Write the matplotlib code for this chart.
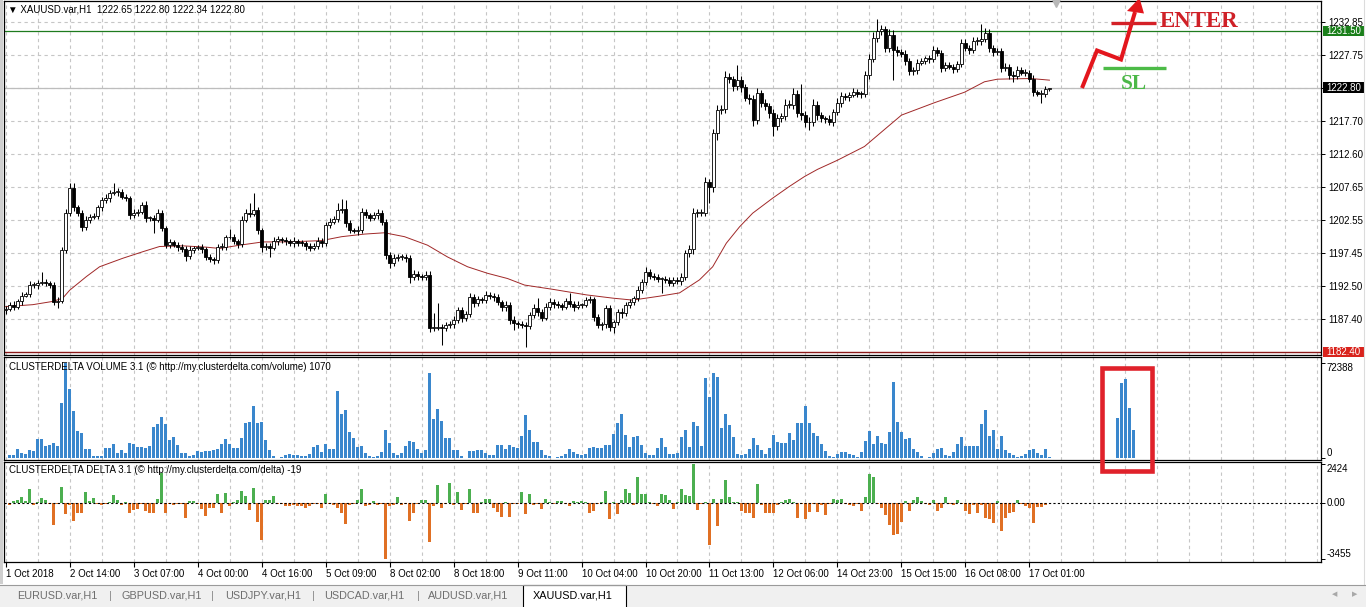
import numpy as np
import matplotlib
matplotlib.use("Agg")
import matplotlib.pyplot as plt
from matplotlib.patches import Rectangle, Polygon
from matplotlib.transforms import blended_transform_factory

plt.rcParams["font.family"] = ["Liberation Sans", "DejaVu Sans"]

W, H = 1366, 607

# ---- data (XAUUSD H1) ----
first_open = 1188.8
closes = [
    1189.0, 1189.5, 1189.3, 1190.1, 1191.0, 1191.2, 1192.6, 1192.6, 1192.9, 1193.1,
    1192.9, 1192.6, 1190.0, 1190.2, 1198.0, 1203.6, 1207.4, 1204.5, 1203.6, 1201.5,
    1202.6, 1203.0, 1203.1, 1204.5, 1205.6, 1205.9, 1206.7, 1206.8, 1206.9, 1206.1,
    1205.9, 1203.3, 1203.6, 1203.8, 1204.9, 1202.9, 1202.9, 1202.6, 1203.6, 1201.3,
    1198.8, 1199.2, 1198.8, 1198.4, 1198.1, 1197.0, 1198.0, 1198.3, 1198.4, 1198.1,
    1196.9, 1196.6, 1196.4, 1198.4, 1198.4, 1199.9, 1200.0, 1199.3, 1198.9, 1202.6,
    1203.6, 1203.5, 1204.1, 1201.0, 1198.4, 1198.6, 1198.3, 1199.3, 1199.7, 1199.5,
    1199.3, 1199.0, 1199.4, 1199.1, 1199.0, 1198.6, 1198.3, 1198.6, 1199.4, 1199.0,
    1201.8, 1202.3, 1202.7, 1204.1, 1204.2, 1202.1, 1201.0, 1200.9, 1201.1, 1203.8,
    1203.3, 1202.9, 1203.3, 1203.6, 1202.3, 1197.2, 1196.0, 1196.7, 1196.9, 1196.9,
    1196.7, 1193.8, 1194.3, 1194.0, 1193.8, 1194.2, 1186.0, 1186.1, 1186.2, 1186.0,
    1186.5, 1186.7, 1187.3, 1188.8, 1187.6, 1188.1, 1190.8, 1189.9, 1190.4, 1190.3,
    1191.1, 1190.9, 1190.8, 1190.0, 1189.2, 1189.6, 1187.3, 1186.8, 1186.7, 1186.5,
    1186.4, 1188.0, 1189.1, 1188.5, 1187.6, 1189.3, 1190.0, 1189.7, 1189.5, 1189.3,
    1190.1, 1189.7, 1189.3, 1189.6, 1189.6, 1190.3, 1190.4, 1187.7, 1186.5, 1186.6,
    1189.1, 1186.2, 1187.0, 1188.5, 1188.3, 1189.6, 1190.0, 1190.6, 1191.8, 1193.1,
    1194.6, 1194.0, 1193.9, 1193.5, 1193.5, 1193.4, 1192.9, 1193.4, 1193.2, 1193.8,
    1197.5, 1198.1, 1203.6, 1203.7, 1203.7, 1208.4, 1207.6, 1215.9, 1219.4, 1219.6,
    1224.4, 1224.1, 1223.1, 1224.0, 1222.9, 1221.2, 1221.1, 1217.9, 1222.0, 1220.5,
    1220.0, 1218.9, 1216.9, 1218.2, 1218.5, 1220.2, 1220.2, 1221.8, 1218.9, 1218.6,
    1217.5, 1217.6, 1220.2, 1218.6, 1218.1, 1218.0, 1217.6, 1219.1, 1220.5, 1221.5,
    1221.4, 1221.7, 1222.1, 1221.9, 1221.8, 1224.8, 1227.2, 1230.4, 1231.5, 1231.7,
    1228.8, 1230.9, 1228.5, 1228.2, 1228.0, 1226.9, 1225.3, 1225.5, 1226.6, 1226.9,
    1227.3, 1227.2, 1228.5, 1228.1, 1225.8, 1226.2, 1226.0, 1225.7, 1226.4, 1229.6,
    1228.9, 1228.5, 1229.9, 1230.0, 1230.3, 1231.2, 1228.8, 1228.2, 1228.4, 1225.8,
    1226.0, 1224.8, 1224.6, 1225.5, 1225.1, 1225.1, 1224.2, 1222.1, 1221.9, 1221.9,
    1222.65, 1222.8,
]
wick_up = [
    0.4, 0.5, 0.6, 0.4, 0.5, 0.3, 0.6, 0.5, 0.4, 1.5, 0.5, 0.3, 0.4, 0.5, 0.4, 0.6, 0.8, 0.8, 0.4, 0.5,
    0.6, 0.4, 0.5, 0.3, 0.5, 0.7, 0.4, 1.4, 0.6, 0.4, 0.5, 0.4, 0.6, 0.5, 0.4, 0.5, 0.3, 0.4, 0.6, 0.5,
    0.4, 0.5, 0.3, 0.4, 0.5, 0.4, 0.6, 0.3, 0.4, 0.5, 0.3, 0.4, 0.3, 0.5, 0.6, 0.4, 1.2, 0.4, 0.3, 0.5,
    0.6, 1.6, 2.6, 0.5, 0.4, 0.5, 0.4, 0.6, 0.4, 0.3, 0.5, 0.4, 0.5, 0.3, 0.4, 0.3, 0.4, 0.5, 0.6, 0.4,
    0.5, 0.6, 0.4, 1.1, 1.6, 1.4, 0.4, 0.3, 0.5, 0.6, 0.5, 0.4, 0.5, 0.6, 0.5, 0.4, 0.5, 0.6, 0.4, 0.5,
    0.4, 0.5, 0.6, 0.4, 0.3, 0.5, 0.6, 2.2, 3.7, 0.4, 0.5, 0.4, 0.6, 0.5, 0.4, 0.5, 0.6, 0.4, 0.5, 0.3,
    0.6, 0.4, 0.5, 0.4, 0.3, 0.5, 0.4, 0.5, 0.3, 0.4, 0.4, 0.5, 0.6, 1.5, 0.4, 0.5, 0.6, 0.4, 0.5, 0.4,
    0.5, 1.3, 0.4, 0.5, 0.3, 0.5, 0.6, 0.4, 0.5, 0.4, 0.5, 0.4, 0.3, 0.5, 0.6, 0.4, 0.5, 0.4, 0.6, 0.5,
    0.7, 0.4, 0.5, 0.4, 0.3, 0.5, 0.4, 0.5, 0.4, 0.6, 0.5, 0.6, 0.8, 0.5, 0.6, 0.7, 0.5, 0.6, 0.8, 0.6,
    0.9, 0.6, 0.5, 2.3, 0.6, 0.5, 0.7, 0.6, 0.8, 0.5, 0.6, 0.5, 0.7, 0.6, 0.5, 0.8, 0.7, 0.9, 0.6, 4.5,
    0.6, 0.7, 0.9, 0.6, 0.5, 0.4, 0.6, 0.5, 0.7, 0.6, 0.5, 0.4, 0.6, 0.5, 0.4, 0.6, 0.7, 0.9, 1.8, 0.7,
    0.6, 0.8, 0.7, 0.6, 0.5, 0.6, 0.5, 0.4, 0.6, 0.5, 0.4, 0.5, 0.7, 0.5, 0.4, 0.5, 0.6, 0.4, 0.5, 0.7,
    0.6, 0.5, 0.6, 0.5, 2.2, 0.8, 0.6, 0.5, 0.4, 0.5, 0.6, 0.4, 0.5, 0.6, 0.4, 0.5, 0.4, 0.5, 0.4, 0.5,
    0.4, 0.0,
]
wick_dn = [
    0.6, 0.4, 0.5, 0.4, 0.6, 0.3, 0.5, 0.4, 0.6, 0.3, 0.4, 0.5, 0.5, 0.9, 0.4, 0.5, 0.4, 0.6, 0.5, 0.6,
    0.4, 0.5, 0.3, 0.4, 0.5, 0.4, 0.6, 0.3, 0.5, 0.4, 0.5, 0.6, 0.4, 0.5, 0.4, 0.6, 0.5, 2.0, 0.4, 0.5,
    0.6, 0.5, 0.4, 0.6, 0.5, 0.7, 0.4, 0.5, 0.4, 0.6, 0.5, 0.4, 0.6, 0.5, 0.4, 0.5, 0.3, 0.4, 0.6, 0.5,
    0.4, 0.5, 0.4, 0.6, 0.7, 0.5, 1.4, 0.4, 0.5, 0.4, 0.5, 0.4, 0.6, 0.5, 0.4, 0.6, 0.5, 0.4, 0.5, 0.6,
    0.4, 0.5, 0.4, 0.5, 0.4, 0.6, 0.5, 0.4, 0.6, 0.5, 0.4, 0.5, 0.4, 0.6, 0.5, 0.6, 0.8, 0.5, 0.4, 0.5,
    0.6, 0.9, 0.5, 0.6, 0.4, 0.5, 0.6, 0.5, 0.4, 2.6, 0.5, 0.4, 0.6, 0.5, 0.6, 0.5, 0.4, 0.6, 0.5, 0.4,
    0.5, 0.4, 0.6, 0.5, 0.6, 0.5, 0.7, 1.0, 0.6, 0.5, 3.3, 0.5, 0.4, 0.6, 0.5, 0.4, 0.5, 0.6, 0.4, 0.5,
    0.4, 0.5, 0.6, 0.4, 0.5, 0.4, 0.5, 0.6, 0.5, 0.7, 0.5, 0.6, 0.9, 0.5, 0.8, 0.4, 0.5, 0.4, 0.5, 0.4,
    0.5, 0.4, 0.6, 0.5, 2.1, 0.5, 0.4, 0.5, 0.4, 0.6, 0.5, 0.6, 0.7, 0.6, 0.5, 0.6, 2.5, 0.8, 1.1, 0.6,
    0.7, 0.6, 0.8, 0.6, 0.7, 0.5, 0.8, 0.9, 0.6, 0.7, 0.6, 0.7, 1.5, 0.6, 0.7, 0.6, 0.5, 0.7, 0.6, 0.8,
    0.7, 1.2, 0.6, 0.7, 0.5, 0.6, 0.5, 0.6, 0.5, 0.6, 0.5, 0.6, 0.4, 0.5, 0.6, 0.5, 0.6, 0.5, 0.6, 0.7,
    0.6, 0.5, 4.5, 0.6, 0.5, 0.7, 0.6, 0.5, 0.6, 0.4, 0.5, 0.6, 0.5, 0.4, 0.6, 0.5, 0.4, 0.6, 0.5, 0.4,
    0.5, 0.6, 0.4, 0.5, 0.6, 0.5, 0.6, 0.5, 0.4, 0.6, 0.5, 0.6, 1.0, 0.5, 0.4, 0.5, 0.6, 0.5, 0.4, 1.4,
    0.5, 0.3,
]
# indicator values, one per bar starting with the second candle
volume = [
    2540, 2540, 7110, 3810, 3300, 6350, 5840, 14730, 14730, 9650,
    10160, 11430, 9400, 42420, 72388, 52830, 36320, 20830, 19050, 7110,
    6980, 1780, 1650, 1900, 7620, 7490, 10670, 4320, 6350, 3810,
    11430, 10670, 8890, 8760, 8130, 9400, 24130, 26160, 31750, 26040,
    13970, 16510, 10160, 4320, 3810, 1780, 2540, 5590, 5080, 5460,
    5210, 6350, 7110, 10670, 14730, 10540, 8130, 7620, 15750, 27180,
    27940, 39880, 26670, 27430, 13970, 6350, 2030, 510, 760, 2290,
    3050, 2790, 2160, 1520, 1780, 3560, 8640, 10410, 5080, 10540,
    6860, 6990, 51050, 33530, 36830, 20070, 15240, 8890, 9140, 4320,
    1780, 1270, 1780, 4830, 21340, 11430, 3810, 2290, 4060, 9140,
    12950, 12190, 7110, 4060, 6350, 64770, 29970, 37340, 28450, 15490,
    15750, 6100, 5970, 1780, 510, 5590, 5710, 6350, 6220, 4320,
    2540, 2670, 10160, 10030, 6860, 10160, 8640, 7620, 17020, 32770,
    21590, 12700, 12570, 6350, 2540, 1780, 510, 640, 1780, 3560,
    7370, 4830, 3050, 2290, 3560, 8130, 8640, 7620, 8130, 10160,
    10290, 18800, 27180, 33530, 17780, 8640, 16510, 17020, 10160, 4320,
    2290, 2540, 8130, 15750, 8640, 3560, 3430, 3680, 16510, 21590,
    8640, 27940, 24640, 9400, 60960, 46740, 65280, 61980, 23370, 34040,
    25400, 16260, 3050, 2540, 3560, 6860, 15750, 10160, 6100, 3050,
    8130, 17780, 12450, 11940, 11430, 19050, 13970, 26670, 27180, 39880,
    27050, 19300, 17020, 11180, 5840, 1780, 1270, 3300, 5080, 4950,
    3300, 2290, 1270, 4570, 13460, 21080, 11180, 17270, 11940, 11180,
    19810, 57910, 27940, 19810, 14730, 15240, 7110, 4570, 1780, 510,
    1020, 4060, 7110, 7870, 2290, 1780, 5080, 11180, 16510, 9140,
    9270, 9010, 9400, 25910, 36580, 17020, 21340, 7110, 17020, 6350,
    4060, 2790, 1270, 1400, 3300, 6600, 7110, 4060, 2290, 7110,
    1070,
]
delta = [
    -100, 100, 160, 400, 100, 840, -100, 60, 300, 160,
    -40, -1360, -40, 1000, -700, -100, -1100, -600, -640, 700,
    100, 300, -40, -100, -40, 40, 500, 200, -100, 40,
    -640, -440, -360, -40, -500, -600, -640, 240, 1840, -600,
    -40, -100, -40, -40, -960, 100, 100, -40, -360, -800,
    -300, -300, 560, -600, 600, -200, 40, 200, 740, 440,
    -440, 960, -1200, -2300, 160, 200, 440, -40, -40, -200,
    -160, -100, -200, -200, -300, -200, -40, -40, -300, 560,
    -40, -100, -300, -640, -1300, -100, -40, 200, 840, -200,
    -100, 100, -100, -40, -3455, -200, -100, 400, -100, -40,
    -1100, -600, -40, 200, 200, -2400, -200, 1100, -340, -40,
    1260, -140, 660, -440, -40, 860, -640, -640, 40, 260,
    260, -340, -540, -840, 60, -840, -40, -40, 700, -700,
    560, -100, -40, -360, 240, 40, -40, 100, 100, -40,
    -200, 100, 40, 100, 40, -600, -500, -40, 40, 760,
    -1000, 40, -700, 200, 840, 600, -100, 1640, 540, 560,
    40, -40, -200, 540, 500, 160, -400, 40, 840, 500,
    460, 2424, -440, -40, 40, -2600, 240, -1440, 240, 1440,
    400, 40, 40, -500, -600, -600, -960, 1200, -100, -600,
    -640, -600, -100, 40, 160, 260, 40, -900, -40, -990,
    -570, -40, -570, -100, -740, -40, 270, 210, 270, -40,
    -150, -210, -40, -525, 360, 1790, 1620, -40, -315, -740,
    -1365, -2000, -1900, -1200, 150, -525, 210, 360, 100, -40,
    -100, 210, -525, -315, 360, -40, -100, 190, -40, -525,
    -690, -100, -630, -100, -900, -990, -1260, 150, -1740, -945,
    -590, -570, 210, -40, -170, -315, -1260, -270, -270, -150,
    -19,
]
# moving average, sampled along the red line (bar index, price)
ma_idx = [0, 6.8, 11.8, 14.3, 16, 20.2, 23.5, 29.3, 34.3, 38.5, 44.3, 50.2, 53.5,
          58.5, 64.3, 70.5, 79, 84, 89.75, 94.75, 99.75, 105.5, 110.5, 115.5,
          120.5, 125.5, 129.75, 136.8, 145.2, 151.8, 156.8, 163.5, 168.5, 173.5,
          176.8, 180.2, 183.5, 186.8, 191.8, 196, 199.75, 203, 208, 214.75,
          219.75, 224, 232.25, 239.75, 244.75, 248, 256.4, 261]
ma_val = [1189.3, 1189.6, 1190.1, 1190.6, 1191.8, 1193.9, 1195.4, 1196.7, 1197.7,
          1198.5, 1198.6, 1198.4, 1198.2, 1198.7, 1199.2, 1199.2, 1199.4, 1200.0,
          1200.4, 1200.6, 1200.0, 1198.7, 1196.9, 1195.4, 1194.4, 1193.6, 1192.6,
          1191.95, 1191.1, 1190.6, 1190.3, 1190.9, 1191.4, 1193.4, 1195.4, 1199.0,
          1201.5, 1203.6, 1205.9, 1207.7, 1209.2, 1210.3, 1211.7, 1213.8, 1216.4,
          1218.6, 1220.5, 1222.1, 1223.7, 1224.1, 1224.2, 1223.95]

price_ticks = [1187.40, 1192.50, 1197.45, 1202.55, 1207.65, 1212.60,
               1217.70, 1222.70, 1227.75, 1232.85]
time_labels = ["1 Oct 2018", "2 Oct 14:00", "3 Oct 07:00", "4 Oct 00:00",
               "4 Oct 16:00", "5 Oct 09:00", "8 Oct 02:00", "8 Oct 18:00",
               "9 Oct 11:00", "10 Oct 04:00", "10 Oct 20:00", "11 Oct 13:00",
               "12 Oct 06:00", "14 Oct 23:00", "15 Oct 15:00", "16 Oct 08:00",
               "17 Oct 01:00"]
inset_vol = [30480, 57150, 60450, 38610, 21590]   # pasted bars inside the red box
tabs = ["EURUSD.var,H1", "GBPUSD.var,H1", "USDJPY.var,H1",
        "USDCAD.var,H1", "AUDUSD.var,H1", "XAUUSD.var,H1"]

bid, sl_level, low_level = 1222.80, 1231.50, 1182.40


def box(x0, y0, x1, y1):
    return [x0 / W, 1 - y1 / H, (x1 - x0) / W, (y1 - y0) / H]


c = np.array(closes)
o = np.array([first_open] + closes[:-1])
hi = np.maximum(o, c) + np.array(wick_up)
lo = np.minimum(o, c) - np.array(wick_dn)
xs = np.arange(len(closes))
ind_x = np.arange(1, len(volume) + 1)

fig = plt.figure(figsize=(W / 100, H / 100), dpi=100)
fig.patch.set_facecolor("white")
ax1 = fig.add_axes(box(4, 1, 1321, 355))
ax2 = fig.add_axes(box(4, 357, 1321, 459.5))
ax3 = fig.add_axes(box(4, 461.5, 1321, 562))

major = np.arange(0, 257, 16)
minor = [p for p in range(8, 329, 8) if p not in major]
grid_kw = dict(color="#c6c6c6", linestyle=(0, (3, 3)), linewidth=0.8)
for ax in (ax1, ax2, ax3):
    ax.set_xlim(-0.4, 328.9)
    ax.set_xticks(major)
    ax.set_xticks(minor, minor=True)
    ax.grid(True, axis="x", which="both", **grid_kw)
    ax.set_axisbelow(True)
    for s in ax.spines.values():
        s.set_color("black")
        s.set_linewidth(0.9)
    ax.tick_params(axis="x", which="both", length=0, labelbottom=False)
    ax.yaxis.tick_right()
    ax.tick_params(axis="y", length=3, width=0.7, pad=2, labelsize=7)

# ---- price panel ----
ax1.set_ylim(1181.90, 1236.06)
ax1.set_yticks(price_ticks)
ax1.set_yticklabels([f"{p:.2f}" for p in price_ticks])
ax1.grid(True, axis="y", **grid_kw)
ax1.axhline(bid, color="#bdbdbd", lw=0.9, zorder=1.5)
ax1.axhline(sl_level, color="#1e7b1e", lw=0.9, zorder=1.5)
ax1.axhline(low_level, color="#8b1a1a", lw=1.0, zorder=1.5)
ax1.plot(ma_idx, ma_val, color="#a02828", lw=0.7, zorder=2.5)
ax1.vlines(xs, lo, hi, color="black", lw=0.75, zorder=3)
ax1.bar(xs, np.maximum(np.abs(c - o), 0.12), bottom=np.minimum(o, c), width=0.62,
        color=np.where(c >= o, "white", "black"), edgecolor="black",
        linewidth=0.6, zorder=4)

tr1 = blended_transform_factory(ax1.transAxes, ax1.transData)
for level, fc in [(sl_level, "#1a7f1a"), (bid, "black"), (low_level, "#d9231c")]:
    ax1.add_patch(Rectangle((1.0012, level - 0.8), 41.5 / 1317, 1.6, transform=tr1,
                            fc=fc, ec="none", clip_on=False, zorder=6))
    ax1.text(1.0 + 5 / 1317, level, f"{level:.2f}", transform=tr1, color="white",
             fontsize=7, va="center", ha="left", clip_on=False, zorder=7)

# ---- volume panel ----
ax2.bar(ind_x, volume, width=0.8, color="#3a87cd", zorder=2)
ax2.bar(np.arange(278, 283), inset_vol, width=0.8, color="#3a87cd", zorder=2)
ax2.set_ylim(-900, 77200)
ax2.set_yticks([0, 72388])
ax2.set_yticklabels(["", ""])
tr2 = blended_transform_factory(ax2.transAxes, ax2.transData)
ax2.text(1.0 + 5.5 / 1317, 72388, "72388", transform=tr2, fontsize=7, va="top", ha="left")
ax2.text(1.0 + 5.5 / 1317, 0, "0", transform=tr2, fontsize=7, va="bottom", ha="left")

# ---- delta panel ----
dcol = ["#4caf50" if d > 0 else "#e07024" for d in delta]
ax3.bar(ind_x, delta, width=0.8, color=dcol, zorder=2)
ax3.axhline(0, color="black", lw=0.8, linestyle=(0, (2, 2)), zorder=3)
ax3.set_ylim(-3660, 2575)
ax3.set_yticks([-3455, 0, 2424])
ax3.set_yticklabels(["", "", ""])
tr3 = blended_transform_factory(ax3.transAxes, ax3.transData)
ax3.text(1.0 + 5.5 / 1317, 2424, "2424", transform=tr3, fontsize=7, va="top", ha="left")
ax3.text(1.0 + 5.5 / 1317, 0, "0.00", transform=tr3, fontsize=7, va="center", ha="left")
ax3.text(1.0 + 5.5 / 1317, -3455, "-3455", transform=tr3, fontsize=7, va="bottom", ha="left")
ax3.set_xticks(major, labels=time_labels)
ax3.tick_params(axis="x", which="major", length=3.5, width=0.8, labelbottom=True,
                labelsize=7, pad=1.5)
for lab in ax3.get_xticklabels():
    lab.set_ha("left")

# ---- overlay: titles, hand-drawn signal, tabs ----
ov = fig.add_axes([0, 0, 1, 1], zorder=20)
ov.set_xlim(0, W)
ov.set_ylim(H, 0)
ov.axis("off")
ov.patch.set_alpha(0)

ov.text(8, 9, "\u25bc XAUUSD.var,H1  1222.65 1222.80 1222.34 1222.80", fontsize=7,
        va="center", ha="left")
ov.text(9, 366.5, "CLUSTERDELTA VOLUME 3.1 (\u00a9 http://my.clusterdelta.com/volume) 1070",
        fontsize=7, va="center", ha="left")
ov.text(9, 470, "CLUSTERDELTA DELTA 3.1 (\u00a9 http://my.clusterdelta.com/delta) -19",
        fontsize=7, va="center", ha="left")
ov.plot(1056, 2.5, marker="v", color="#b8b8b8", ms=6)

red = "#e3161d"
ov.plot([1082, 1097, 1121, 1135], [88, 50.5, 59.5, 12], color=red, lw=2.9,
        solid_joinstyle="miter", solid_capstyle="butt")
ov.add_patch(Polygon([(1139.5, -2), (1127, 11), (1144, 13.5)], closed=True, fc=red, ec="none"))
ov.plot([1111, 1156], [22.5, 22.5], color="#d42027", lw=2.4, solid_capstyle="butt")
ov.text(1160, 26.8, "ENTER", family="Liberation Serif", weight="bold", fontsize=16.5,
        color="#cf2027", va="baseline", ha="left")
ov.plot([1103, 1166], [68, 68], color="#4cbb47", lw=2.4, solid_capstyle="butt")
ov.text(1121, 89, "SL", family="Liberation Serif", weight="bold", fontsize=15.5,
        color="#4cb848", va="baseline", ha="left")
ov.add_patch(Rectangle((1101.7, 367.5), 50.5, 103, fill=False, ec="#e0222b", lw=3.3))

# window frame and symbol tabs
ov.add_patch(Rectangle((0, 0), 2.5, 584, fc="#cfcfcf", ec="none"))
ov.plot([1363.5, 1363.5], [0, 584], color="#dcdcdc", lw=0.8)
ov.add_patch(Rectangle((0, 584.5), W, 23, fc="#f0f0f0", ec="none"))
ov.plot([0, W], [584.5, 584.5], color="#9a9a9a", lw=0.8)
ov.add_patch(Rectangle((522.7, 584.5), 103.3, 25, fc="white", ec="black", lw=0.8))
for tx, name in zip([17, 121, 225, 324, 428, 533], tabs):
    ov.text(tx, 596, name, fontsize=7.8, va="center", ha="left",
            color="black" if name.startswith("XAU") else "#6e6e6e")
for sx in [110, 212, 313, 418]:
    ov.text(sx, 596, "|", fontsize=8, va="center", ha="center", color="#8a8a8a")
ov.text(1335, 595, "\u25c0", fontsize=5, va="center", ha="center", color="#a8a8a8")
ov.text(1355, 595, "\u25b6", fontsize=5, va="center", ha="center", color="#a8a8a8")

fig.savefig("out.png", dpi=100)
